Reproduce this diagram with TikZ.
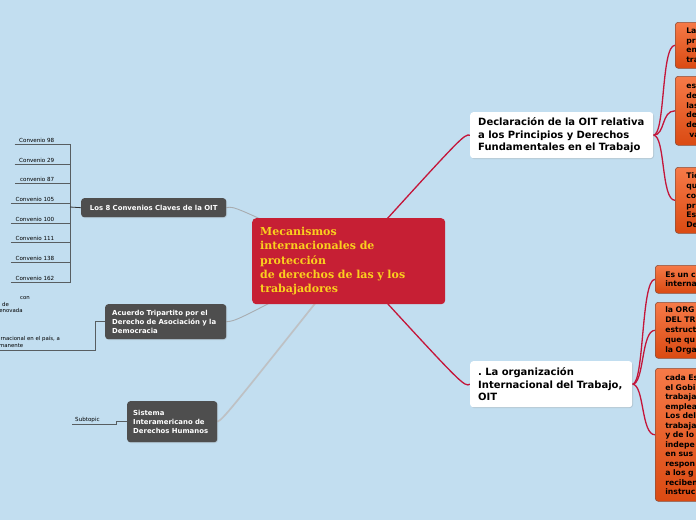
\documentclass[tikz,border=0pt]{standalone}
\usepackage{fontspec}
\setmainfont{DejaVu Sans}
\newfontfamily\titlefont{DejaVu Serif}
\usepackage{tikz}
\usetikzlibrary{backgrounds,shadows,calc}

\definecolor{bgblue}{RGB}{194,222,240}
\definecolor{mainred}{RGB}{198,31,52}
\definecolor{titlegold}{RGB}{250,208,30}
\definecolor{darkbox}{RGB}{78,78,78}
\definecolor{linkred}{RGB}{196,22,58}
\definecolor{linkgray}{RGB}{168,172,176}
\definecolor{orangetop}{RGB}{246,122,72}
\definecolor{orangebot}{RGB}{218,74,18}
\definecolor{orangeedge}{RGB}{140,80,60}

\tikzset{
  maintopic/.style={anchor=north west, fill=mainred, rounded corners=4pt,
    minimum width=193, minimum height=86, text width=177, inner xsep=8,
    inner ysep=0, align=left, text=titlegold,
    font=\titlefont\bfseries\fontsize{11}{14.4}\selectfont},
  whitetopic/.style={anchor=north west, fill=white, rounded corners=3pt,
    inner xsep=8, inner ysep=0, minimum height=46, align=left,
    font=\bfseries\fontsize{10}{12.5}\selectfont,
    drop shadow={shadow xshift=0.8pt, shadow yshift=-0.8pt, opacity=0.25}},
  darktopic/.style={anchor=north west, fill=darkbox, rounded corners=3pt,
    text=white, inner ysep=0, font=\bfseries\fontsize{6.9}{8.8}\selectfont,
    drop shadow={shadow xshift=0.8pt, shadow yshift=-0.8pt, opacity=0.25}},
  orangebox/.style={anchor=north west, draw=orangeedge, line width=0.6pt,
    top color=orangetop, bottom color=orangebot, rounded corners=3pt,
    inner xsep=11, inner ysep=0, text width=90, align=left,
    font=\bfseries\fontsize{7.7}{9.8}\selectfont},
  convlabel/.style={anchor=south east, inner xsep=4.5, inner ysep=1.5,
    font=\fontsize{5.6}{6.5}\selectfont},
  leaflabel/.style={inner sep=0, align=left, font=\fontsize{5.4}{6.8}\selectfont},
  redlink/.style={draw=linkred, line width=1.3pt},
  graylink/.style={draw=linkgray, line width=0.9pt},
  leafline/.style={draw=gray!70!bgblue!60!black, line width=0.7pt}
}

\begin{document}
\frenchspacing
\begin{tikzpicture}[x=1pt,y=-1pt]
\useasboundingbox (0,0) rectangle (696,520);
\clip (0,0) rectangle (696,520);

% central topic
\node[maintopic] (main) at (252,218)
  {Mecanismos\\internacionales de\\protección\\de derechos de las y los\\trabajadores};

% right branches
\node[whitetopic, minimum width=183, text width=167] (decl) at (470,112)
  {Declaración de la OIT relativa\\a los Principios y Derechos\\Fundamentales en el Trabajo};
\node[whitetopic, minimum width=162, text width=146] (org) at (470,361)
  {. La organización\\Internacional del Trabajo,\\OIT};

\node[orangebox, minimum height=46] (decA) at (675,22) {La\\pr\\en\\tra};
\node[orangebox, minimum height=69] (decB) at (675,76) {es\\de\\las\\de\\de\\\hspace*{3pt}va};
\node[orangebox, minimum height=66] (decC) at (675,167) {Tie\\qu\\co\\pr\\Es\\De};

\node[orangebox, inner xsep=10, minimum height=28] (orgA) at (655,265) {Es un c\\interna};
\node[orangebox, inner xsep=10, minimum height=56] (orgB) at (655,302)
  {la ORG\\DEL TR\\estruct\\que qu\\la Orga};
\node[orangebox, inner xsep=10, minimum height=133,
  font=\bfseries\fontsize{7.7}{9.5}\selectfont] (orgC) at (655,368)
  {cada Es\\el Gobi\\trabaja\\emplea\\Los del\\trabaja\\y de lo\\indepe\\en sus\\respon\\a los g\\reciben\\instruc};

% left branches
\node[darktopic, minimum width=145, minimum height=19, align=center] (los8) at (81,198)
  {Los 8 Convenios Claves de la OIT};
\node[darktopic, minimum width=121, minimum height=35, text width=107, inner xsep=7,
  align=left] (acu) at (105,304)
  {Acuerdo Tripartito por el\\Derecho de Asociación y la\\Democracia};
\node[darktopic, minimum width=90, minimum height=41, text width=78, inner xsep=6,
  align=left] (sis) at (127,401)
  {Sistema\\Interamericano de\\Derechos Humanos};

% convenios
\coordinate (convbar) at (70,207);
\foreach \i/\yy/\txt in {1/144/Convenio 98, 2/164/Convenio 29, 3/183/convenio 87,
    4/203/Convenio 105, 5/223/Convenio 100, 6/242/Convenio 111,
    7/262/Convenio 138, 8/282/Convenio 162} {
  \node[convlabel] (conv\i) at (59,\yy) {\txt};
  \draw[leafline] (conv\i.south west) -| (convbar);
}
\draw[line width=0.8pt, black!80] (convbar) -- (los8.west);

% acuerdo leaves
\node[leaflabel, anchor=north west] (acuA) at (-12,296)
  {\hspace*{32pt}con\\\hspace*{14pt}de\\\hspace*{9pt}renovada};
\node[leaflabel, anchor=south west, inner ysep=1.5] (acuB) at (-10,350)
  {internacional en el país, a\\permanente};
\draw[leafline] (acuB.south west) -| ($(acu.west)+(-10,0)$) -- (acu.west);

% sistema leaf
\node[convlabel, anchor=south west, inner xsep=3] (sisA) at (72,424) {Subtopic};
\draw[leafline] (sisA.south west) -| ($(sis.west)+(-11,0)$) -- (sis.west);

\begin{pgfonlayer}{background}
  \fill[bgblue] (0,0) rectangle (696,520);
  % links from the centre
  \draw[redlink] (main.center) .. controls (464,134) .. (decl.west);
  \draw[redlink] (main.center) .. controls (464,387) .. (org.west);
  \draw[graylink] (main.center) .. controls (234,206) .. (los8.east);
  \draw[graylink] (main.center) .. controls (236,321) .. (acu.east);
  \draw[graylink, line width=1.7pt, draw=linkgray!75!white] (main.center) .. controls (224,418) .. (sis.east);
  % links to the notes
  \foreach \b in {decA,decB,decC}
    \draw[redlink] (decl.east) .. controls +(12,0) and +(-14,0) .. (\b.west);
  \foreach \b in {orgA,orgB,orgC}
    \draw[redlink] (org.east) .. controls +(12,0) and +(-14,0) .. (\b.west);
\end{pgfonlayer}
\end{tikzpicture}
\end{document}
